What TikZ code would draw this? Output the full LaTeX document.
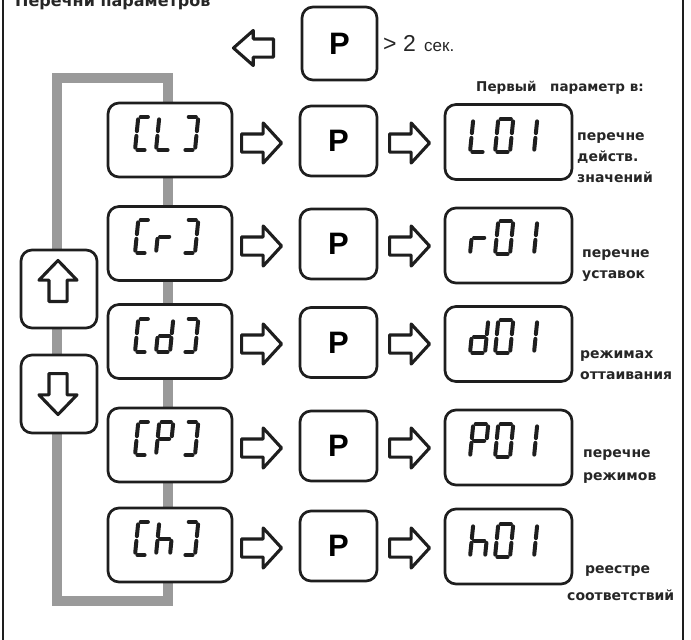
\documentclass[tikz,border=0pt]{standalone}
\usepackage{fontspec}
\setmainfont{Liberation Sans}
\newfontfamily\lblfont{DejaVu Sans}
\usetikzlibrary{shapes.arrows}

\definecolor{ink}{HTML}{1E1E1E}
\definecolor{loopgray}{HTML}{9A9A9A}
\definecolor{textgray}{HTML}{262626}

\tikzset{
  keybox/.style={draw=ink, line width=2.7pt, rounded corners=11pt, fill=white, inner sep=0pt},
  codebox/.style={keybox, minimum width=124pt, minimum height=74pt},
  pbox/.style={keybox, minimum width=77pt, minimum height=70pt,
    font=\fontsize{31}{31}\selectfont\bfseries},
  dispbox/.style={keybox, minimum width=127pt, minimum height=75pt},
  navbox/.style={keybox, minimum width=76pt, minimum height=78pt},
  fatarrow/.style={single arrow, draw=ink, fill=white, line width=3.1pt, line join=round,
    inner sep=7.5pt, minimum width=0pt},
  rightarrow/.style={fatarrow, anchor=tail, minimum height=40pt,
    single arrow head extend=11pt, single arrow tip angle=95},
  lcdseg/.style={draw=ink, line width=4pt, line cap=round, shorten <=2.4pt, shorten >=2.4pt},
  lbl/.style={anchor=base west, inner sep=0pt, text=textgray,
    font=\lblfont\bfseries\fontsize{14}{14}\selectfont},
  loopline/.style={draw=loopgray, line width=10pt},
}

% one seven-segment cell: #1 x, #2 bottom y, #3 width, #4 height, #5 segment list
\newcommand\lcdglyph[5]{%
  \begin{scope}[shift={({#1},{#2})}]
    \coordinate (BL) at (0,0);
    \coordinate (BR) at ({#3},0);
    \coordinate (ML) at ({0.1*#4/2},{-#4/2});
    \coordinate (MR) at ({#3+0.1*#4/2},{-#4/2});
    \coordinate (TL) at ({0.1*#4},{-#4});
    \coordinate (TR) at ({#3+0.1*#4},{-#4});
    \foreach \p/\q in #5 {\draw[lcdseg] (\p) -- (\q);}
  \end{scope}}

% segment sets
\newcommand\lcdOpen{TL/TR, TL/ML, ML/BL, BL/BR}
\newcommand\lcdClose{TL/TR, TR/MR, MR/BR, BL/BR}
\newcommand\lcdL{TL/ML, ML/BL, BL/BR}
\newcommand\lcdR{ML/MR, ML/BL}
\newcommand\lcdD{TR/MR, MR/BR, BL/BR, ML/BL, ML/MR}
\newcommand\lcdP{TL/TR, TR/MR, TL/ML, ML/BL, ML/MR}
\newcommand\lcdH{TL/ML, ML/BL, ML/MR, MR/BR}
\newcommand\lcdZero{TL/TR, TR/MR, MR/BR, BL/BR, ML/BL, TL/ML}
\newcommand\lcdOne{TR/MR, MR/BR}

% "[x]" on a group key, and "x01" on a display
\newcommand\codeglyphs[2]{%
  \lcdglyph{135}{#1}{12}{33}{\lcdOpen}%
  \lcdglyph{156}{#1}{14}{33}{#2}%
  \lcdglyph{183}{#1}{12}{33}{\lcdClose}}
\newcommand\dispglyphs[2]{%
  \lcdglyph{470}{#1}{15}{33}{#2}%
  \lcdglyph{495}{#1}{15}{33}{\lcdZero}%
  \lcdglyph{520}{#1}{14}{33}{\lcdOne}}

\begin{document}
\begin{tikzpicture}[x=1pt, y=-1pt]
\useasboundingbox (0,0) rectangle (691,640);

% frame sides
\draw[ink, line width=1.5pt] (3,-5) -- (3,645);
\draw[ink, line width=1.5pt] (683,-5) -- (683,645);

% heading, partly above the page edge
\node[anchor=base west, inner sep=0pt, text=textgray,
  font=\lblfont\bfseries\fontsize{16}{16}\selectfont] (title) at (15,6) {Перечни параметров};

% navigation loop behind the keys
\coordinate (loopTL) at (57,78);
\coordinate (loopBR) at (168,601);
\draw[loopline] (loopTL) rectangle (loopBR);

% exit key
\node[pbox, minimum width=75pt, minimum height=73pt] (ptop) at (339.5,43.5) {P};
\node[fatarrow, anchor=tail, minimum height=40pt, single arrow head extend=8.5pt,
  single arrow tip angle=83, shape border rotate=180] (aexit) at (275,48) {};
\node[anchor=base west, inner sep=0pt, text=textgray, font=\fontsize{23}{23}\selectfont]
  (gt) at (383,51) {> 2};
\node[anchor=base west, inner sep=0pt, text=textgray, font=\fontsize{17}{17}\selectfont]
  (sec) at (424,51) {сек.};

% column heading
\node[lbl, font=\lblfont\bfseries\fontsize{13.5}{13.5}\selectfont] (hd1) at (476,91) {Первый};
\node[lbl, font=\lblfont\bfseries\fontsize{13.5}{13.5}\selectfont] (hd2) at (550,91) {параметр в:};

% up / down keys
\node[navbox] (up) at (59,289) {};
\node[fatarrow, anchor=tail, minimum height=41pt, single arrow head extend=10pt,
  single arrow tip angle=88, shape border rotate=90] (aup) at (58,303) {};
\node[navbox] (down) at (59,394) {};
\node[fatarrow, anchor=tail, minimum height=41pt, single arrow head extend=10pt,
  single arrow tip angle=88, shape border rotate=270] (adown) at (58,372) {};

% row 1: [L] -> P -> L01
\node[codebox] (k1) at (170,140) {};
\node[pbox] (p1) at (338.5,141) {P};
\node[dispbox] (d1) at (508.5,142) {};
\node[rightarrow] (a1) at (240,143) {};
\node[rightarrow] (b1) at (388,143) {};
\codeglyphs{150}{\lcdL}
\dispglyphs{152}{\lcdL}
\node[lbl] (t1a) at (577,140) {перечне};
\node[lbl] (t1b) at (577,161) {действ.};
\node[lbl] (t1c) at (577,182) {значений};

% row 2: [r] -> P -> r01
\node[codebox] (k2) at (170,243.5) {};
\node[pbox] (p2) at (338.5,244) {P};
\node[dispbox] (d2) at (508.5,245.5) {};
\node[rightarrow] (a2) at (240,246) {};
\node[rightarrow] (b2) at (388,246) {};
\codeglyphs{253}{\lcdR}
\dispglyphs{254}{\lcdR}
\node[lbl] (t2a) at (582,257) {перечне};
\node[lbl] (t2b) at (582,278) {уставок};

% row 3: [d] -> P -> d01
\node[codebox] (k3) at (170,341.5) {};
\node[pbox] (p3) at (338.5,342.5) {P};
\node[dispbox] (d3) at (508.5,344) {};
\node[rightarrow] (a3) at (240,344) {};
\node[rightarrow] (b3) at (388,344) {};
\codeglyphs{352}{\lcdD}
\dispglyphs{353}{\lcdD}
\node[lbl] (t3a) at (580,358) {режимах};
\node[lbl] (t3b) at (580,379) {оттаивания};

% row 4: [P] -> P -> P01
\node[codebox] (k4) at (170,445) {};
\node[pbox] (p4) at (338.5,446) {P};
\node[dispbox] (d4) at (508.5,447.5) {};
\node[rightarrow] (a4) at (240,448) {};
\node[rightarrow] (b4) at (388,448) {};
\codeglyphs{455}{\lcdP}
\dispglyphs{457}{\lcdP}
\node[lbl] (t4a) at (583,457) {перечне};
\node[lbl] (t4b) at (583,480) {режимов};

% row 5: [h] -> P -> h01
\node[codebox] (k5) at (170,545) {};
\node[pbox] (p5) at (338.5,546) {P};
\node[dispbox] (d5) at (508.5,546.5) {};
\node[rightarrow] (a5) at (240,548) {};
\node[rightarrow] (b5) at (388,548) {};
\codeglyphs{555}{\lcdH}
\dispglyphs{557}{\lcdH}
\node[lbl] (t5a) at (585,573) {реестре};
\node[lbl] (t5b) at (567,600) {соответствий};
\end{tikzpicture}
\end{document}
